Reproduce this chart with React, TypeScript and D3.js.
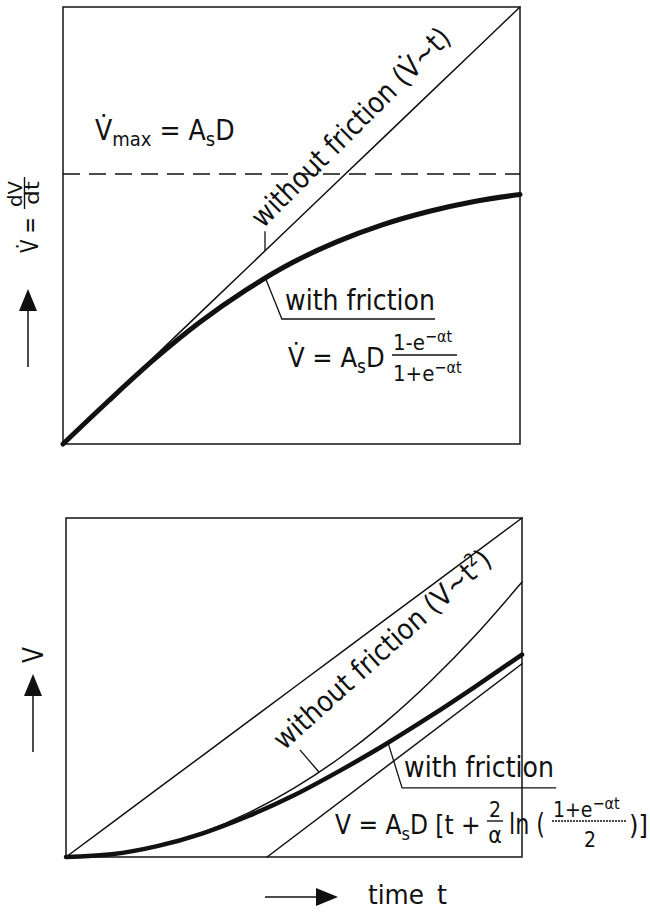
import React, { useRef, useEffect } from 'react';
import * as d3 from 'd3';

// time samples, arbitrary units spanning each frame (0..10)
const timeSteps = [0, 1, 2, 3, 4, 5, 6, 7, 8, 9, 10];

// upper panel: flow rate V-dot
const flowNoFriction = [0, 1, 2, 3, 4, 5, 6, 7, 8, 9, 10];
const flowFriction = [0, 0.99, 1.94, 2.79, 3.52, 4.14, 4.63, 5.02, 5.32, 5.55, 5.71];
const flowMax = 6.18;

// lower panel: volume V
const volReference = [0, 1, 2, 3, 4, 5, 6, 7, 8, 9, 10];
const volNoFriction = [0, 0.08, 0.32, 0.73, 1.3, 2.03, 2.92, 3.97, 5.19, 6.57, 8.11];
const volFriction = [0, 0.08, 0.32, 0.7, 1.21, 1.82, 2.54, 3.32, 4.16, 5.05, 5.97];
const asymptoteTime = [4.41, 10];
const asymptoteVol = [0, 5.7];

// leader lines for the labels, [time, value] in panel units
const topLeaderNoFriction = [[4.42, 4.42], [4.42, 4.87]];
const topLeaderFriction = [[4.42, 3.82], [4.79, 2.86], [8.14, 2.86]];
const botLeaderNoFriction = [[5.55, 2.5], [5.13, 3.16]];
const botLeaderFriction = [[7.06, 3.38], [7.37, 2.04], [10.75, 2.04]];

const FONT = "'Liberation Sans Narrow', 'DejaVu Sans Condensed', 'Liberation Sans', sans-serif";
const INK = '#111';

type Part = { t: string; size?: number; dy?: number };

const rich = (g: any, x: number, y: number, parts: Part[], size: number, len?: number) => {
  const text = g.append('text')
    .attr('x', x)
    .attr('y', y)
    .attr('font-family', FONT)
    .attr('font-size', size)
    .attr('fill', INK)
    .style('white-space', 'pre');
  parts.forEach(p => {
    text.append('tspan')
      .attr('font-size', p.size ?? size)
      .attr('dy', p.dy ?? 0)
      .text(p.t);
  });
  // only used on plain one-piece labels
  if (len) text.attr('textLength', len).attr('lengthAdjust', 'spacingAndGlyphs');
  return text;
};

const App = () => {
  const svgRef = useRef<SVGSVGElement | null>(null);

  useEffect(() => {
    const svg = d3.select(svgRef.current);
    svg.selectAll('*').remove();

    const xT = d3.scaleLinear().domain([0, 10]).range([63, 520]);
    const yT = d3.scaleLinear().domain([0, 10]).range([444, 7]);
    const xB = d3.scaleLinear().domain([0, 10]).range([66, 522]);
    const yB = d3.scaleLinear().domain([0, 10]).range([857, 518]);

    const series = (g: any, x: any, y: any, ts: number[], vs: number[], w: number, smooth = true) => {
      const gen = d3.line<number>()
        .x((_, i) => x(ts[i]))
        .y(d => y(d))
        .curve(smooth ? d3.curveMonotoneX : d3.curveLinear);
      g.append('path')
        .attr('d', gen(vs))
        .attr('fill', 'none')
        .attr('stroke', INK)
        .attr('stroke-width', w)
        .attr('stroke-linecap', 'round');
    };

    const leader = (g: any, x: any, y: any, pts: number[][]) => {
      g.append('path')
        .attr('d', d3.line<number[]>().x(p => x(p[0])).y(p => y(p[1]))(pts))
        .attr('fill', 'none')
        .attr('stroke', INK)
        .attr('stroke-width', 1.3);
    };

    const frame = (g: any, x: any, y: any) => {
      g.append('rect')
        .attr('x', x(0))
        .attr('y', y(10))
        .attr('width', x(10) - x(0))
        .attr('height', y(0) - y(10))
        .attr('fill', 'none')
        .attr('stroke', '#222')
        .attr('stroke-width', 1.6);
    };

    const arrow = (g: any, x1: number, y1: number, x2: number, y2: number) => {
      const ang = Math.atan2(y2 - y1, x2 - x1);
      const len = 22, half = 9;
      const bx = x2 - Math.cos(ang) * len, by = y2 - Math.sin(ang) * len;
      g.append('line')
        .attr('x1', x1).attr('y1', y1).attr('x2', bx).attr('y2', by)
        .attr('stroke', INK).attr('stroke-width', 1.5);
      g.append('path')
        .attr('d', `M${x2},${y2}L${bx - Math.sin(ang) * half},${by + Math.cos(ang) * half}L${bx + Math.sin(ang) * half},${by - Math.cos(ang) * half}Z`)
        .attr('fill', INK);
    };

    // ---------- upper panel ----------
    const gt = svg.append('g');
    frame(gt, xT, yT);

    gt.append('line')
      .attr('x1', xT(0)).attr('x2', xT(10))
      .attr('y1', yT(flowMax)).attr('y2', yT(flowMax))
      .attr('stroke', INK)
      .attr('stroke-width', 1.5)
      .attr('stroke-dasharray', '17 9');

    series(gt, xT, yT, timeSteps, flowNoFriction, 1.5, false);
    series(gt, xT, yT, timeSteps, flowFriction, 5);
    leader(gt, xT, yT, topLeaderNoFriction);
    leader(gt, xT, yT, topLeaderFriction);

    rich(gt, 95, 140, [
      { t: 'V\u0307' },
      { t: 'max', size: 20, dy: 6 },
      { t: ' = A', dy: -6 },
      { t: 's', size: 20, dy: 6 },
      { t: 'D', dy: -6 }
    ], 28);

    rich(gt, 0, 0, [{ t: 'without friction (V\u0307~t)' }], 29, 268)
      .attr('transform', 'translate(263,229) rotate(-45)');

    rich(gt, 285, 310, [{ t: 'with friction' }], 29, 150);

    rich(gt, 288, 367, [
      { t: 'V\u0307 = A' },
      { t: 's', size: 19, dy: 6 },
      { t: 'D', dy: -6 }
    ], 27);
    rich(gt, 393, 350, [{ t: '1-e' }, { t: '\u2212\u03b1t', size: 16, dy: -8 }], 22);
    gt.append('line').attr('x1', 392).attr('x2', 457).attr('y1', 355).attr('y2', 355)
      .attr('stroke', INK).attr('stroke-width', 1.4);
    rich(gt, 393, 381, [{ t: '1+e' }, { t: '\u2212\u03b1t', size: 16, dy: -8 }], 22);

    // y label of upper panel
    const lt = svg.append('g').attr('transform', 'translate(38,253) rotate(-90)');
    rich(lt, 0, 0, [{ t: 'V\u0307 =' }], 24, 36);
    rich(lt, 46, -16, [{ t: 'dV' }], 19, 26);
    lt.append('line').attr('x1', 44).attr('x2', 76).attr('y1', -13.5).attr('y2', -13.5)
      .attr('stroke', INK).attr('stroke-width', 1.4);
    rich(lt, 48, 1, [{ t: 'dt' }], 19, 24);
    arrow(svg, 28, 367, 28, 289);

    // ---------- lower panel ----------
    const gb = svg.append('g');
    frame(gb, xB, yB);

    series(gb, xB, yB, timeSteps, volReference, 1.5, false);
    series(gb, xB, yB, timeSteps, volNoFriction, 1.5);
    series(gb, xB, yB, asymptoteTime, asymptoteVol, 1.5, false);
    series(gb, xB, yB, timeSteps, volFriction, 4.5);
    leader(gb, xB, yB, botLeaderNoFriction);
    leader(gb, xB, yB, botLeaderFriction);

    rich(gb, 0, 0, [
      { t: 'without friction (V~t' },
      { t: '2', size: 18, dy: -11 },
      { t: ')', dy: 11 }
    ], 28.5).attr('transform', 'translate(284,751) rotate(-42)');

    rich(gb, 404, 777, [{ t: 'with friction' }], 29, 150);

    rich(gb, 335, 834, [
      { t: 'V = A' },
      { t: 's', size: 18, dy: 6 },
      { t: 'D [t +', dy: -6 }
    ], 26);
    rich(gb, 495, 817, [{ t: '2' }], 21).attr('text-anchor', 'middle');
    gb.append('line').attr('x1', 487).attr('x2', 503).attr('y1', 821).attr('y2', 821)
      .attr('stroke', INK).attr('stroke-width', 1.4);
    rich(gb, 495, 843, [{ t: '\u03b1' }], 23).attr('text-anchor', 'middle');
    rich(gb, 509, 834, [{ t: 'ln (' }], 29, 36);
    rich(gb, 553, 817, [{ t: '1+e' }, { t: '\u2212\u03b1t', size: 16, dy: -8 }], 21);
    gb.append('line').attr('x1', 552).attr('x2', 626).attr('y1', 821).attr('y2', 821)
      .attr('stroke', INK).attr('stroke-width', 1.4).attr('stroke-dasharray', '2 1');
    rich(gb, 590, 847, [{ t: '2' }], 21).attr('text-anchor', 'middle');
    rich(gb, 629, 834, [{ t: ')]' }], 27);

    // y label of lower panel
    const lb = svg.append('g').attr('transform', 'translate(43,663) rotate(-90)');
    rich(lb, 0, 0, [{ t: 'V' }], 28, 16);
    arrow(svg, 33, 752, 33, 674);

    // x label
    arrow(svg, 265, 897, 338, 897);
    rich(svg, 368, 904, [{ t: 'time' }], 27, 56);
    rich(svg, 437, 904, [{ t: 't' }], 27, 10);
  }, []);

  return (
    <svg
      ref={svgRef}
      width={650}
      height={913}
      viewBox="0 0 650 913"
      style={{ position: 'absolute', left: 0, top: 0, background: '#fff' }}
    />
  );
};

export default App;
